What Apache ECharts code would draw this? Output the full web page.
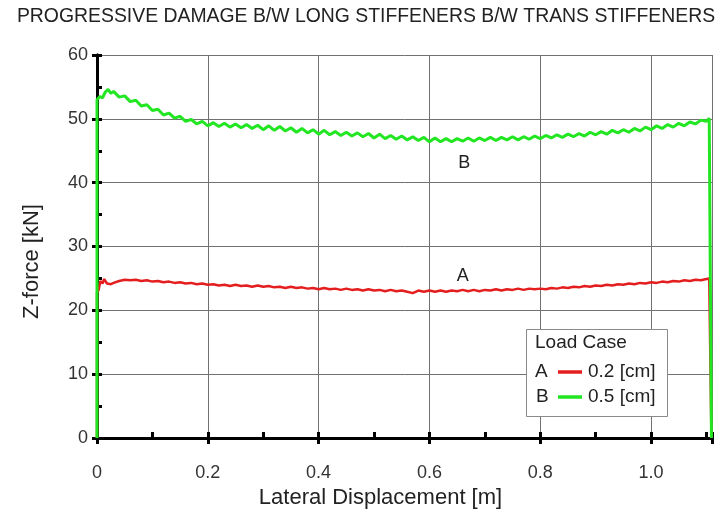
<!DOCTYPE html>
<html>
<head>
<meta charset="utf-8">
<style>html,body{margin:0;padding:0;background:#fff}#c{width:716px;height:515px}</style>
<script src="https://cdn.jsdelivr.net/npm/echarts@6/dist/echarts.min.js"></script>
</head>
<body>
<div id="c"></div>
<script>
const titleText = 'PROGRESSIVE DAMAGE B/W LONG STIFFENERS B/W TRANS STIFFENERS';
const xName = 'Lateral Displacement [m]';
const yName = 'Z-force [kN]';
const legendTitle = 'Load Case';
const seriesKeys = ['A', 'B'];
const seriesLabels = ['0.2 [cm]', '0.5 [cm]'];
const xMax = 1.11;
const yMax = 60;

// Load case A (0.2 cm): [lateral displacement m, z-force kN]
const caseA = [
  [0,0],[0,22.8],[0.003,23.2],[0.006,24.6],[0.01,24.2],[0.013,24.9],[0.018,24.2],[0.025,24.1],[0.03,24.3],
  [0.04,24.6],[0.05,24.8],[0.06,24.7],[0.07,24.8],[0.08,24.6],[0.09,24.7],[0.10,24.5],[0.11,24.6],[0.12,24.4],
  [0.13,24.5],[0.14,24.3],[0.15,24.4],[0.16,24.2],[0.17,24.3],[0.18,24.1],[0.19,24.2],[0.20,24.0],[0.21,24.1],
  [0.22,23.9],[0.23,24.0],[0.24,23.8],[0.25,24.0],[0.26,23.8],[0.27,23.9],[0.28,23.7],[0.29,23.9],[0.30,23.7],
  [0.31,23.8],[0.32,23.6],[0.33,23.7],[0.34,23.5],[0.35,23.7],[0.36,23.5],[0.37,23.6],[0.38,23.4],[0.39,23.5],
  [0.40,23.3],[0.41,23.5],[0.42,23.3],[0.43,23.4],[0.44,23.2],[0.45,23.4],[0.46,23.2],[0.47,23.3],[0.48,23.1],
  [0.49,23.3],[0.50,23.1],[0.51,23.2],[0.52,23.0],[0.53,23.2],[0.54,23.0],[0.55,23.1],[0.56,22.9],[0.57,22.7],
  [0.58,23.1],[0.59,22.9],[0.60,23.1],[0.61,22.9],[0.62,23.1],[0.63,22.9],[0.64,23.1],[0.65,23.0],[0.66,23.2],
  [0.67,23.0],[0.68,23.2],[0.69,23.0],[0.70,23.2],[0.71,23.1],[0.72,23.3],[0.73,23.1],[0.74,23.3],[0.75,23.2],
  [0.76,23.4],[0.77,23.2],[0.78,23.4],[0.79,23.3],[0.80,23.4],[0.81,23.3],[0.82,23.5],[0.83,23.4],[0.84,23.6],
  [0.85,23.5],[0.86,23.7],[0.87,23.6],[0.88,23.8],[0.89,23.7],[0.90,23.9],[0.91,23.8],[0.92,24.0],[0.93,23.9],
  [0.94,24.1],[0.95,24.0],[0.96,24.2],[0.97,24.1],[0.98,24.3],[0.99,24.2],[1.00,24.4],[1.01,24.3],[1.02,24.5],
  [1.03,24.4],[1.04,24.6],[1.05,24.5],[1.06,24.7],[1.07,24.6],[1.08,24.8],[1.09,24.7],[1.10,24.9],[1.105,25.0],
  [1.109,0]
];

// Load case B (0.5 cm)
const caseB = [
  [0,0],[0,53.0],[0.005,53.5],[0.01,53.3],[0.015,54.2],[0.02,54.6],[0.025,54.0],[0.03,54.3],[0.04,53.4],
  [0.05,53.6],[0.06,52.7],[0.07,52.9],[0.08,52.0],[0.09,52.2],[0.10,51.3],[0.11,51.5],[0.12,50.6],[0.13,50.9],
  [0.14,50.1],[0.15,50.4],[0.16,49.6],[0.17,49.9],[0.18,49.2],[0.19,49.6],[0.20,48.9],[0.21,49.4],[0.22,48.8],
  [0.23,49.3],[0.24,48.7],[0.25,49.2],[0.26,48.6],[0.27,49.1],[0.28,48.5],[0.29,49.0],[0.30,48.3],[0.31,48.9],
  [0.32,48.2],[0.33,48.8],[0.34,48.1],[0.35,48.6],[0.36,47.9],[0.37,48.5],[0.38,47.8],[0.39,48.3],[0.40,47.6],
  [0.41,48.2],[0.42,47.5],[0.43,48.0],[0.44,47.4],[0.45,47.9],[0.46,47.3],[0.47,47.8],[0.48,47.2],[0.49,47.7],
  [0.50,47.0],[0.51,47.6],[0.52,46.9],[0.53,47.4],[0.54,46.8],[0.55,47.3],[0.56,46.7],[0.57,47.2],[0.58,46.6],
  [0.59,47.1],[0.60,46.4],[0.61,47.0],[0.62,46.4],[0.63,46.9],[0.64,46.4],[0.65,46.9],[0.66,46.5],[0.67,47.0],
  [0.68,46.5],[0.69,47.0],[0.70,46.6],[0.71,47.1],[0.72,46.6],[0.73,47.1],[0.74,46.7],[0.75,47.2],[0.76,46.7],
  [0.77,47.2],[0.78,46.8],[0.79,47.3],[0.80,46.9],[0.81,47.4],[0.82,47.0],[0.83,47.5],[0.84,47.1],[0.85,47.6],
  [0.86,47.2],[0.87,47.7],[0.88,47.3],[0.89,47.9],[0.90,47.5],[0.91,48.0],[0.92,47.6],[0.93,48.2],[0.94,47.8],
  [0.95,48.3],[0.96,47.9],[0.97,48.5],[0.98,48.1],[0.99,48.7],[1.00,48.3],[1.01,48.9],[1.02,48.5],[1.03,49.1],
  [1.04,48.7],[1.05,49.3],[1.06,48.9],[1.07,49.5],[1.08,49.2],[1.09,49.8],[1.10,49.6],[1.105,50.1],[1.109,0]
];

// Annotation anchors (data coordinates)
const labelAnchorA = [0.66, 25.4];
const labelAnchorB = [0.663, 43.1];

const RED = '#e41e1e';
const GREEN = '#22e622';
const FONT = 'Liberation Sans, Arial, sans-serif';

const chart = echarts.init(document.getElementById('c'), null, {renderer: 'canvas'});

function markLabel(key, coord) {
  return {
    symbol: 'rect', symbolSize: 1, silent: true,
    itemStyle: {color: 'rgba(0,0,0,0)'},
    label: {show: true, position: 'inside', formatter: key, color: '#222', fontSize: 18, fontFamily: FONT},
    data: [{coord: coord, value: key}]
  };
}

const option = {
  animation: false,
  backgroundColor: '#fff',
  grid: {left: 97, right: 4, top: 55, bottom: 77, containLabel: false},
  xAxis: [
    {
      type: 'value', position: 'bottom', min: 0, max: xMax, interval: 0.2,
      name: xName, nameLocation: 'middle', nameGap: 46,
      nameTextStyle: {fontSize: 22, color: '#222', fontFamily: FONT, padding: [0, 48, 0, 0]},
      axisLine: {show: true, lineStyle: {color: '#000', width: 3}},
      axisTick: {show: true, inside: false, length: 6, lineStyle: {color: '#000', width: 3}},
      axisLabel: {margin: 26, fontSize: 18, color: '#333', fontFamily: FONT, showMaxLabel: false,
        formatter: v => v === 0 ? '0' : v.toFixed(1)},
      splitLine: {show: true, lineStyle: {color: '#707070', width: 1}}
    },
    {
      type: 'value', position: 'bottom', min: 0, max: xMax, interval: 0.1,
      axisLine: {show: false}, axisLabel: {show: false}, splitLine: {show: false},
      axisTick: {show: true, inside: true, length: 6, lineStyle: {color: '#000', width: 3}}
    },
    {
      type: 'value', position: 'top', min: 0, max: xMax, interval: 0.2,
      axisLine: {show: true, lineStyle: {color: '#000', width: 3}},
      axisLabel: {show: false}, splitLine: {show: false},
      axisTick: {show: true, inside: true, length: 6, lineStyle: {color: '#000', width: 3}}
    }
  ],
  yAxis: [
    {
      type: 'value', position: 'left', min: 0, max: yMax, interval: 10,
      name: yName, nameLocation: 'middle', nameGap: 54,
      nameTextStyle: {fontSize: 22, color: '#222', fontFamily: FONT, padding: [0, 30, 0, 0]},
      axisLine: {show: true, lineStyle: {color: '#000', width: 3}},
      axisTick: {show: true, inside: false, length: 5, lineStyle: {color: '#000', width: 3}},
      axisLabel: {margin: 9, fontSize: 18, color: '#333', fontFamily: FONT},
      splitLine: {show: true, lineStyle: {color: '#707070', width: 1}}
    },
    {
      type: 'value', position: 'left', min: 0, max: yMax, interval: 5,
      axisLine: {show: false}, axisLabel: {show: false}, splitLine: {show: false},
      axisTick: {show: true, inside: true, length: 5, lineStyle: {color: '#000', width: 3}}
    },
    {
      type: 'value', position: 'right', min: 0, max: yMax, interval: 10,
      axisLine: {show: true, lineStyle: {color: '#000', width: 3}},
      axisLabel: {show: false}, splitLine: {show: false},
      axisTick: {show: true, inside: true, length: 5, lineStyle: {color: '#000', width: 3}}
    }
  ],
  series: [
    {
      name: seriesKeys[0], type: 'line', data: caseA, xAxisIndex: 0, yAxisIndex: 0,
      showSymbol: false, symbol: 'none', clip: false, z: 3,
      lineStyle: {color: RED, width: 2.5},
      markPoint: markLabel(seriesKeys[0], labelAnchorA)
    },
    {
      name: seriesKeys[1], type: 'line', data: caseB, xAxisIndex: 0, yAxisIndex: 0,
      showSymbol: false, symbol: 'none', clip: false, z: 4,
      lineStyle: {color: GREEN, width: 3},
      markPoint: markLabel(seriesKeys[1], labelAnchorB)
    }
  ],
  graphic: [
    {type: 'text', x: 366, y: 17, z: 100,
      style: {text: titleText, fill: '#222', font: '19.4px ' + FONT, textAlign: 'center', textVerticalAlign: 'middle'}},
    {type: 'rect', z: 100, shape: {x: 526.5, y: 329.5, width: 141, height: 87},
      style: {fill: '#fff', stroke: '#8a8a8a', lineWidth: 1}},
    {type: 'text', x: 535, y: 343, z: 101,
      style: {text: legendTitle, fill: '#222', font: '19px ' + FONT, textVerticalAlign: 'middle'}},
    {type: 'text', x: 535, y: 372, z: 101,
      style: {text: seriesKeys[0], fill: '#222', font: '19px ' + FONT, textVerticalAlign: 'middle'}},
    {type: 'line', z: 101, shape: {x1: 558, y1: 372, x2: 582, y2: 372}, style: {stroke: RED, lineWidth: 3.5}},
    {type: 'text', x: 588, y: 372, z: 101,
      style: {text: seriesLabels[0], fill: '#222', font: '19px ' + FONT, textVerticalAlign: 'middle'}},
    {type: 'text', x: 536, y: 397, z: 101,
      style: {text: seriesKeys[1], fill: '#222', font: '19px ' + FONT, textVerticalAlign: 'middle'}},
    {type: 'line', z: 101, shape: {x1: 558, y1: 397, x2: 582, y2: 397}, style: {stroke: GREEN, lineWidth: 3.5}},
    {type: 'text', x: 588, y: 397, z: 101,
      style: {text: seriesLabels[1], fill: '#222', font: '19px ' + FONT, textVerticalAlign: 'middle'}}
  ]
};
chart.setOption(option);
</script>
</body>
</html>
